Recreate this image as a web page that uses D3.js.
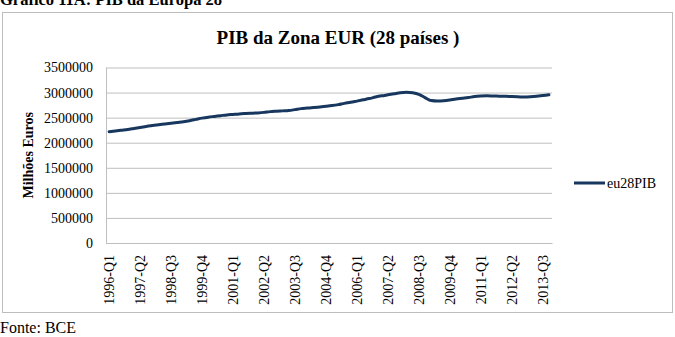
<!DOCTYPE html>
<html>
<head>
<meta charset="utf-8">
<script src="https://cdn.jsdelivr.net/npm/d3@7"></script>
<style>
    body { margin: 0; background: #fff; }
    text { font-family: "Liberation Serif", "Times New Roman", serif; }
</style>
</head>
<body>
<div id="chart"></div>
<script>

// quarters 1996-Q1 .. 2013-Q4
const years = d3.range(1996, 2014)
const quarters = years.flatMap(y => [1, 2, 3, 4].map(q => `${y}-Q${q}`))

// PIB (milhões de euros)
const eu28PIB = [
    2220000, 2235000, 2250000, 2265000, 2285000, 2305000, 2325000, 2345000,
    2360000, 2375000, 2390000, 2405000, 2420000, 2440000, 2465000, 2490000,
    2510000, 2525000, 2540000, 2555000, 2565000, 2575000, 2582000, 2588000,
    2595000, 2605000, 2620000, 2628000, 2635000, 2642000, 2660000, 2680000,
    2690000, 2700000, 2712000, 2725000, 2740000, 2760000, 2785000, 2805000,
    2830000, 2855000, 2880000, 2910000, 2935000, 2955000, 2975000, 2995000,
    3005000, 2995000, 2965000, 2900000, 2840000, 2830000, 2835000, 2850000,
    2870000, 2885000, 2900000, 2920000, 2930000, 2935000, 2932000, 2928000,
    2925000, 2920000, 2915000, 2910000, 2915000, 2925000, 2940000, 2955000
]

const yTicks = [0, 500000, 1000000, 1500000, 2000000, 2500000, 3000000, 3500000]
const seriesName = "eu28PIB"

const data = quarters.map((q, i) => ({ date: q, value: eu28PIB[i] }))

const svgWidth = 675
const svgHeight = 337

const plot = { left: 106, right: 552, top: 67.5, bottom: 243 }

const svg = d3.select('#chart')
    .append('svg')
    .attr("width", svgWidth)
    .attr("height", svgHeight)

// outer chart frame
svg.append("rect")
    .attr("x", 2.5)
    .attr("y", 12.5)
    .attr("width", 670)
    .attr("height", 300)
    .attr("fill", "none")
    .attr("stroke", "#bdbdbd")

// figure caption (cut off at the top, as in the source)
svg.append("text")
    .attr("x", 0)
    .attr("y", 5)
    .attr("font-size", 16.5)
    .attr("font-weight", "bold")
    .text("Gráfico 11A: PIB da Europa 28")

svg.append("text")
    .attr("x", 338)
    .attr("y", 44)
    .attr("text-anchor", "middle")
    .attr("font-size", 19)
    .attr("font-weight", "bold")
    .text("PIB da Zona EUR (28 países )")

////////////// scales //////////////

const x = d3.scaleBand()
    .domain(quarters)
    .range([plot.left, plot.right])

const y = d3.scaleLinear()
    .domain([0, 3500000])
    .range([plot.bottom, plot.top])

////////////// axes //////////////

const yAxis = d3.axisLeft(y)
    .tickValues(yTicks)
    .tickSize(-(plot.right - plot.left))
    .tickPadding(13)
    .tickFormat(d3.format("d"))

const yG = svg.append("g")
    .attr("transform", `translate(${plot.left},0)`)
    .call(yAxis)

yG.select(".domain").remove()
yG.selectAll(".tick line")
    .attr("stroke", "#bfbfbf")
yG.selectAll(".tick text")
    .attr("font-family", "Liberation Serif, serif")
    .attr("font-size", 14)
    .attr("fill", "#000")

// left axis line
svg.append("line")
    .attr("x1", plot.left + 0.5)
    .attr("x2", plot.left + 0.5)
    .attr("y1", plot.top)
    .attr("y2", plot.bottom)
    .attr("stroke", "#bfbfbf")

const xAxis = d3.axisBottom(x)
    .tickValues(quarters.filter((d, i) => i % 5 == 0))
    .tickSize(0)

const xG = svg.append("g")
    .attr("transform", `translate(0,${plot.bottom})`)
    .call(xAxis)

xG.select(".domain")
    .attr("stroke", "#bfbfbf")
xG.selectAll(".tick text")
    .attr("font-family", "Liberation Serif, serif")
    .attr("font-size", 14)
    .attr("fill", "#000")
    .attr("transform", "rotate(-90)")
    .attr("x", -12)
    .attr("y", 0)
    .attr("dy", ".35em")
    .style("text-anchor", "end")

svg.append("text")
    .attr("transform", `translate(28,${(plot.top + plot.bottom) / 2}) rotate(-90)`)
    .attr("text-anchor", "middle")
    .attr("dy", ".35em")
    .attr("font-size", 14)
    .attr("font-weight", "bold")
    .text("Milhões Euros")

////////////// line //////////////

const line = d3.line()
    .x(d => x(d.date) + x.bandwidth() / 2)
    .y(d => y(d.value))
    .curve(d3.curveMonotoneX)

svg.append("path")
    .datum(data)
    .attr("d", line)
    .attr("fill", "none")
    .attr("stroke", "#17375e")
    .attr("stroke-width", 3)
    .attr("stroke-linejoin", "round")
    .attr("stroke-linecap", "round")

////////////// legend //////////////

svg.append("line")
    .attr("x1", 574)
    .attr("x2", 605)
    .attr("y1", 183)
    .attr("y2", 183)
    .attr("stroke", "#17375e")
    .attr("stroke-width", 3)

svg.append("text")
    .attr("x", 607)
    .attr("y", 183)
    .attr("dy", ".35em")
    .attr("font-size", 14)
    .text(seriesName)

svg.append("text")
    .attr("x", 0)
    .attr("y", 333)
    .attr("font-size", 16)
    .text("Fonte: BCE")

</script>
</body>
</html>
